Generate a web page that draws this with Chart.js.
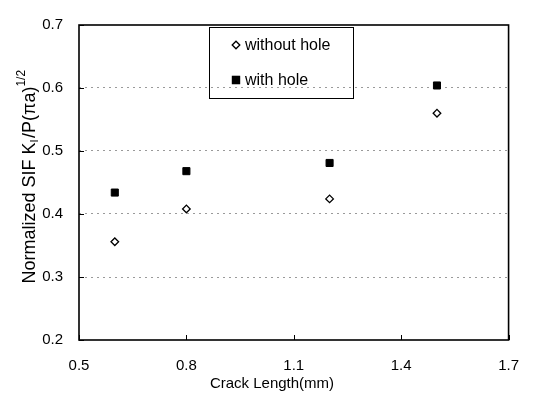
<!DOCTYPE html>
<html>
<head>
<meta charset="utf-8">
<script src="https://cdn.jsdelivr.net/npm/chart.js@4.4.0/dist/chart.umd.min.js"></script>
<style>
  body { margin: 0; background: #fff; }
  canvas { display: block; }
</style>
</head>
<body>
<canvas id="myChart" width="536" height="394"></canvas>
<script>
// values
let crackLength = [0.6, 0.8, 1.2, 1.5];
let withoutHole = [0.356, 0.408, 0.424, 0.560];
let withHole = [0.434, 0.468, 0.481, 0.604];
let xTicks = [0.5, 0.8, 1.1, 1.4, 1.7];
let yTicks = [0.2, 0.3, 0.4, 0.5, 0.6, 0.7];
let seriesNames = ["without hole", "with hole"];

const FONT = 'Arial, "Liberation Sans", sans-serif';

function toPoints(xs, ys) {
    return xs.map((x, i) => ({ x: x, y: ys[i] }));
}

// frame, inner tick marks, axis titles and the boxed legend
let extras = {
    id: "extras",
    afterDatasetsDraw(chart) {
        let ctx = chart.ctx;
        let a = chart.chartArea;
        let xs = chart.scales.x, ys = chart.scales.y;
        ctx.save();
        ctx.strokeStyle = "#000";
        ctx.lineWidth = 1.6;
        ctx.strokeRect(a.left, a.top, a.right - a.left, a.bottom - a.top);

        ctx.lineWidth = 1;
        ctx.beginPath();
        xTicks.forEach(v => {
            let px = Math.round(xs.getPixelForValue(v)) + 0.5;
            ctx.moveTo(px, a.bottom);
            ctx.lineTo(px, a.bottom - 5);
        });
        yTicks.forEach(v => {
            let py = Math.round(ys.getPixelForValue(v)) + 0.5;
            ctx.moveTo(a.left, py);
            ctx.lineTo(a.left + 5, py);
        });
        ctx.stroke();

        // x title
        ctx.fillStyle = "#000";
        ctx.font = "15px " + FONT;
        ctx.textAlign = "center";
        ctx.textBaseline = "alphabetic";
        ctx.fillText("Crack Length(mm)", 272, 388);

        // y title with subscript and superscript
        let parts = [
            { t: "Normalized SIF K", size: 18, dy: 0 },
            { t: "I", size: 11, dy: 3 },
            { t: "/P(\u03c0a)", size: 18, dy: 0 },
            { t: "1/2", size: 12, dy: -10 }
        ];
        let total = 0;
        parts.forEach(p => {
            ctx.font = p.size + "px " + FONT;
            p.w = ctx.measureText(p.t).width;
            total += p.w + (p.size < 18 ? 1.5 : 0);
        });
        ctx.translate(35, 176);
        ctx.rotate(-Math.PI / 2);
        ctx.textAlign = "left";
        let cx = -total / 2;
        parts.forEach(p => {
            ctx.font = p.size + "px " + FONT;
            ctx.fillText(p.t, cx, p.dy);
            cx += p.w + (p.size < 18 ? 1.5 : 0);
        });
        ctx.restore();

        // legend box
        ctx.save();
        ctx.strokeStyle = "#000";
        ctx.lineWidth = 1;
        ctx.strokeRect(209.5, 27.5, 144, 71);
        ctx.font = "16px " + FONT;
        ctx.fillStyle = "#000";
        ctx.textBaseline = "middle";
        chart.data.datasets.forEach((ds, i) => {
            let ly = i === 0 ? 45 : 80;
            Chart.helpers.drawPoint(ctx, {
                pointStyle: ds.pointStyle,
                radius: ds.pointRadius,
                borderWidth: ds.borderWidth
            }, 236, ly);
            ctx.fillStyle = ds.backgroundColor;
            ctx.strokeStyle = ds.borderColor;
            ctx.lineWidth = ds.borderWidth;
            ctx.fill();
            ctx.stroke();
            ctx.fillStyle = "#000";
            ctx.fillText(ds.label, 245, ly + 1);
        });
        ctx.restore();
    }
};

let config = {
    type: "scatter",
    data: {
        datasets: [
            {
                label: seriesNames[0],
                data: toPoints(crackLength, withoutHole),
                pointStyle: "rectRot",
                pointRadius: 3.8,
                backgroundColor: "#fff",
                borderColor: "#000",
                borderWidth: 1.3
            },
            {
                label: seriesNames[1],
                data: toPoints(crackLength, withHole),
                pointStyle: "rect",
                pointRadius: 5,
                backgroundColor: "#000",
                borderColor: "#000",
                borderWidth: 1
            }
        ]
    },
    options: {
        responsive: false,
        animation: false,
        events: [],
        layout: { padding: { left: 0, right: 25, top: 11, bottom: 0 } },
        plugins: {
            legend: { display: false },
            tooltip: { enabled: false }
        },
        scales: {
            x: {
                type: "linear",
                min: 0.5,
                max: 1.7,
                afterBuildTicks: s => { s.ticks = xTicks.map(v => ({ value: v })); },
                afterFit: s => { s.height = 54; },
                grid: { display: false, drawTicks: false },
                border: { display: false },
                ticks: {
                    padding: 17,
                    color: "#000",
                    font: { family: FONT, size: 15 },
                    callback: v => v.toFixed(1)
                }
            },
            y: {
                type: "linear",
                min: 0.2,
                max: 0.7,
                afterBuildTicks: s => { s.ticks = yTicks.map(v => ({ value: v })); },
                afterFit: s => { s.width = 79; },
                grid: {
                    drawTicks: false,
                    color: c => (c.tick && (c.tick.value <= 0.2 || c.tick.value >= 0.7)) ? "rgba(0,0,0,0)" : "#9a9a9a",
                    lineWidth: 1
                },
                border: { display: false, dash: [2, 4] },
                ticks: {
                    padding: 16,
                    color: "#000",
                    font: { family: FONT, size: 15 },
                    callback: v => v.toFixed(1)
                }
            }
        }
    },
    plugins: [extras]
};

let ctx = document.getElementById("myChart").getContext("2d");
let myChart = new Chart(ctx, config);
</script>
</body>
</html>
